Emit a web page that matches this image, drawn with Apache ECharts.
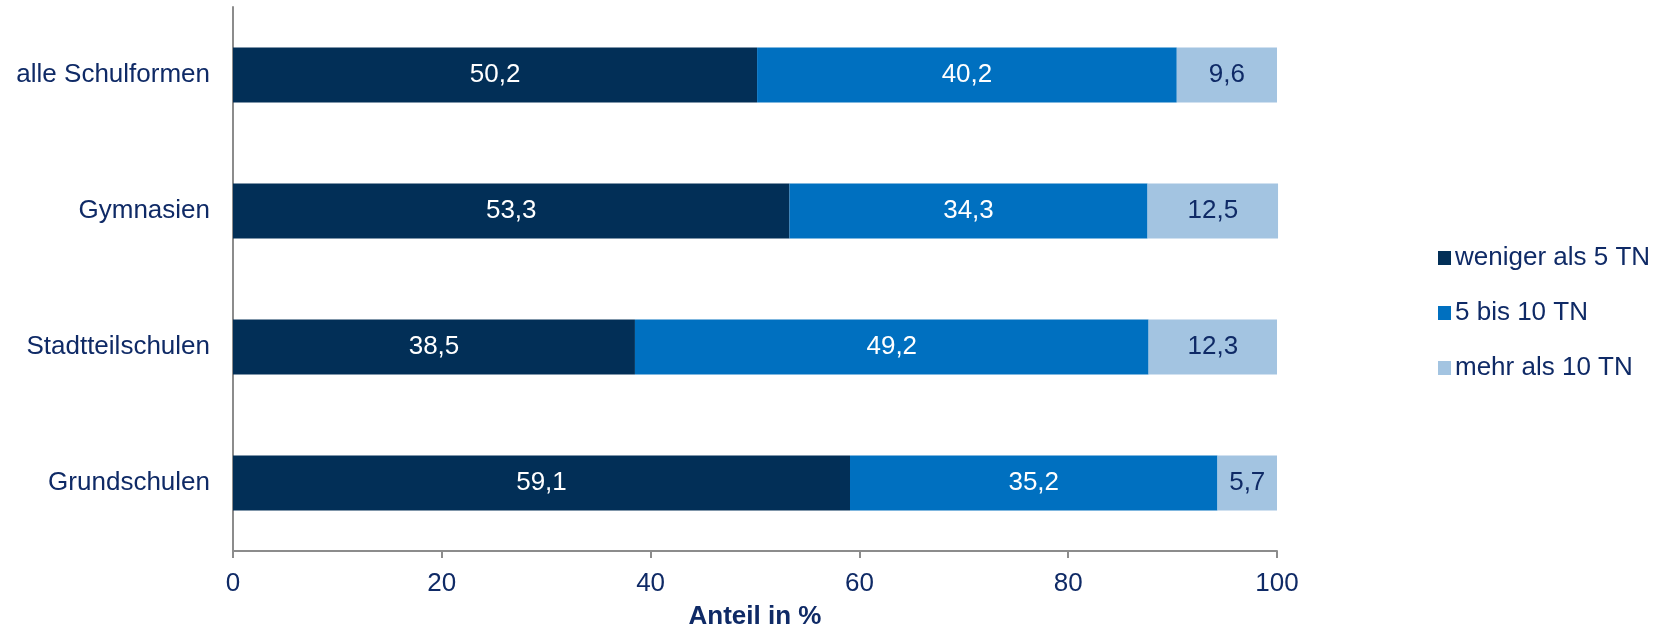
<!DOCTYPE html>
<html>
<head>
<meta charset="utf-8">
<style>
  html, body { margin: 0; padding: 0; background: #ffffff; }
  #chart { width: 1666px; height: 629px; }
</style>
<script src="https://cdn.jsdelivr.net/npm/echarts@6/dist/echarts.min.js"></script>
</head>
<body>
<div id="chart"></div>
<script>
// School types, listed top to bottom
const categories = ['alle Schulformen', 'Gymnasien', 'Stadtteilschulen', 'Grundschulen'];

// Share of schools (%) by number of participants
const seriesNames = ['weniger als 5 TN', '5 bis 10 TN', 'mehr als 10 TN'];
const lessThan5 = [50.2, 53.3, 38.5, 59.1];
const from5to10 = [40.2, 34.3, 49.2, 35.2];
const moreThan10 = [9.6, 12.5, 12.3, 5.7];

const xTicks = [0, 20, 40, 60, 80, 100];

const FONT = '"Liberation Sans", Arial, sans-serif';
const TEXT = '#0f2a66';
const colors = ['#022F57', '#0070C0', '#A3C4E1'];
const labelColors = ['#ffffff', '#ffffff', '#0f2a66'];

const fmt = v => String(v).replace('.', ',');

const chart = echarts.init(document.getElementById('chart'), null, { renderer: 'canvas' });

const values = [lessThan5, from5to10, moreThan10];

chart.setOption({
  animation: false,
  textStyle: { fontFamily: FONT },
  grid: {
    left: 233, right: 389, top: 7, bottom: 78,
    containLabel: false,
    outerBoundsMode: 'none'
  },
  legend: {
    orient: 'vertical',
    left: 1433,
    top: 240,
    itemWidth: 13,
    itemHeight: 14,
    itemGap: 29,
    icon: 'rect',
    textStyle: { fontSize: 26, color: TEXT, fontFamily: FONT, padding: [0, 0, 0, -1] },
    data: seriesNames
  },
  xAxis: {
    type: 'value',
    min: xTicks[0],
    max: xTicks[xTicks.length - 1],
    interval: 20,
    name: 'Anteil in %',
    nameLocation: 'middle',
    nameGap: 53,
    nameTextStyle: { fontSize: 26, fontWeight: 'bold', color: TEXT, fontFamily: FONT },
    axisLine: { show: true, lineStyle: { color: '#8c8c8c', width: 2 } },
    axisTick: { show: true, length: 7, lineStyle: { color: '#8c8c8c', width: 2 } },
    axisLabel: { fontSize: 26, color: TEXT, margin: 20, fontFamily: FONT },
    splitLine: { show: false }
  },
  yAxis: {
    type: 'category',
    inverse: true,
    data: categories,
    axisLine: { show: true, lineStyle: { color: '#8c8c8c', width: 2 } },
    axisTick: { show: false },
    axisLabel: { fontSize: 26, color: TEXT, margin: 23, fontFamily: FONT }
  },
  series: seriesNames.map((name, i) => ({
    name,
    type: 'bar',
    stack: 'total',
    barWidth: 55,
    clip: false,
    itemStyle: { color: colors[i] },
    label: {
      show: true,
      position: 'inside',
      fontSize: 26,
      color: labelColors[i],
      fontFamily: FONT,
      formatter: p => fmt(p.value)
    },
    data: values[i]
  }))
});
</script>
</body>
</html>
